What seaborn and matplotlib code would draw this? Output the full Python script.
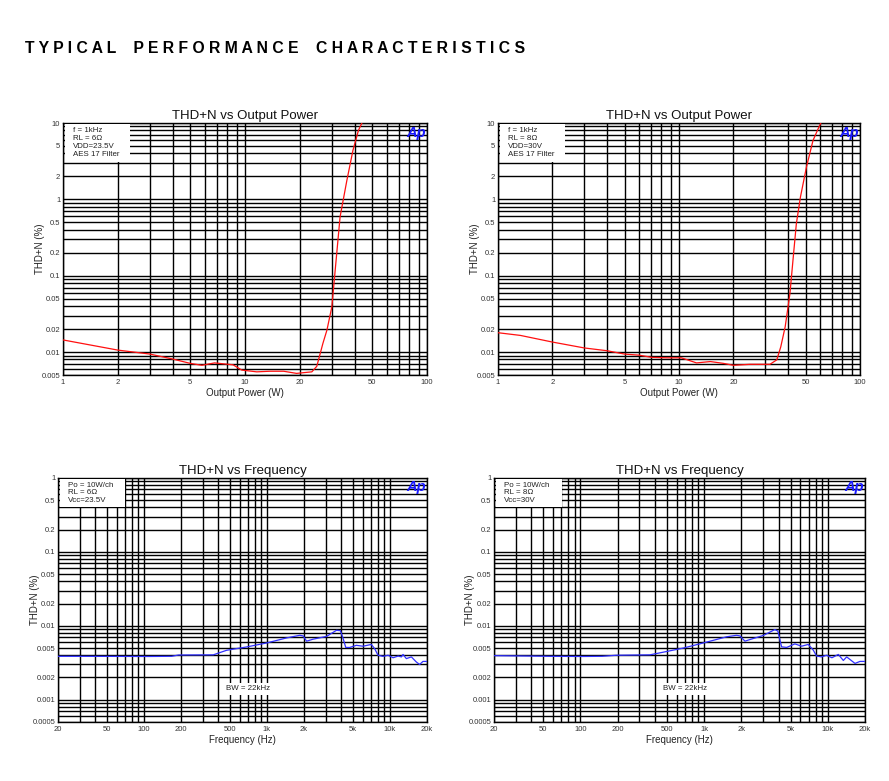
import seaborn as sns
import matplotlib.pyplot as plt
import pandas as pd
import numpy as np
from matplotlib.ticker import FixedLocator, LogLocator, NullFormatter, FixedFormatter
from matplotlib.patches import Rectangle

pot_6 = [1, 2, 3, 4, 5, 5.8, 6.8, 8.6, 9.6, 11.6, 13.7, 16.3, 19.2, 23.3, 24.8,
         26.8, 28.2, 30, 31.3, 33.3, 36.3, 39.2, 42, 44.4]
thd_6 = [0.0144, 0.0106, 0.0094, 0.0081, 0.0071, 0.0067, 0.0072, 0.0068, 0.0058, 0.0055,
         0.0056, 0.0056, 0.00525, 0.0055, 0.0065, 0.013, 0.0194, 0.039, 0.118, 0.59,
         1.78, 4.4, 8.0, 10.6]

# THD+N vs potencia, 8 ohm / 30 V
pot_8 = [1, 1.33, 2, 3, 4, 5, 6, 7.1, 8.6, 10.3, 12.5, 14.9, 17.6, 20, 24.6, 31.8,
         34.7, 36.5, 38.6, 41, 42.8, 44.5, 46.9, 50.6, 55, 58.7, 61.5]
thd_8 = [0.0179, 0.0165, 0.0135, 0.0113, 0.0104, 0.0094, 0.0091, 0.0085, 0.0084, 0.0084,
         0.0072, 0.0075, 0.0071, 0.0067, 0.0069, 0.0069, 0.0079, 0.0117, 0.0214, 0.058,
         0.177, 0.48, 1.08, 2.65, 5.9, 8.4, 10.6]

# THD+N vs frecuencia, 6 ohm
frec_6 = [20, 60, 110, 168, 191, 366, 470, 683, 993, 1443, 1850, 1970, 2100, 2373, 3047,
          3673, 3955, 4165, 4370, 4710, 5330, 6030, 7060, 7510, 8000, 8790, 9640, 10600,
          11640, 12390, 12770, 13590, 14930, 16380, 17420, 18540, 20000]
thdf_6 = [0.00387, 0.00386, 0.00385, 0.00387, 0.00403, 0.00405, 0.00467, 0.00518, 0.00586,
          0.00686, 0.00745, 0.0073, 0.0062, 0.0066, 0.00719, 0.0087, 0.0086, 0.0067, 0.0051,
          0.0051, 0.00545, 0.0053, 0.0056, 0.0049, 0.0040, 0.00386, 0.0040, 0.0037, 0.0039,
          0.0038, 0.0041, 0.0036, 0.0038, 0.00324, 0.0030, 0.0033, 0.0033]

# THD+N vs frecuencia, 8 ohm
frec_8 = [20, 56, 105, 150, 195, 364, 467, 678, 984, 1518, 1828, 1950, 2138, 2400, 3006,
          3734, 3950, 4230, 4650, 5420, 6140, 6950, 7630, 8120, 8900, 9770, 10800, 12170,
          13360, 14220, 15140, 16600, 18200, 20000]
thdf_8 = [0.00395, 0.00387, 0.00385, 0.00387, 0.0040, 0.00405, 0.0044, 0.0050, 0.00586,
          0.0071, 0.00745, 0.0073, 0.0062, 0.0066, 0.0074, 0.0089, 0.0085, 0.0052, 0.0051,
          0.0057, 0.0053, 0.0056, 0.0047, 0.0039, 0.0038, 0.0040, 0.0037, 0.0041, 0.0034,
          0.0038, 0.0035, 0.0031, 0.0033, 0.0033]

ticks_pot_x = [1, 2, 5, 10, 20, 50, 100]
labels_pot_x = ['1', '2', '5', '10', '20', '50', '100']
ticks_pot_y = [0.005, 0.01, 0.02, 0.05, 0.1, 0.2, 0.5, 1, 2, 5, 10]
labels_pot_y = ['0.005', '0.01', '0.02', '0.05', '0.1', '0.2', '0.5', '1', '2', '5', '10']
ticks_frec_x = [20, 50, 100, 200, 500, 1000, 2000, 5000, 10000, 20000]
labels_frec_x = ['20', '50', '100', '200', '500', '1k', '2k', '5k', '10k', '20k']
ticks_frec_y = [0.0005, 0.001, 0.002, 0.005, 0.01, 0.02, 0.05, 0.1, 0.2, 0.5, 1]
labels_frec_y = ['0.0005', '0.001', '0.002', '0.005', '0.01', '0.02', '0.05', '0.1',
                 '0.2', '0.5', '1']

sns.set_style('white')
plt.rcParams['font.family'] = ['Liberation Sans', 'DejaVu Sans']

fig = plt.figure(figsize=(8.89, 7.81), dpi=100)

fig.text(25 / 889, 1 - 53 / 781,
         '    '.join(' '.join(w) for w in ['TYPICAL', 'PERFORMANCE', 'CHARACTERISTICS']),
         fontsize=11.3, fontweight='bold', ha='left', va='baseline', color='black')


def armar(ax, x, y, color, titulo, xlab, xt, xl, yt, yl, caja, ancho_caja, alto_caja):
    df = pd.DataFrame({'x': x, 'y': y})
    sns.lineplot(data=df, x='x', y='y', ax=ax, color=color, lw=0.9, sort=False,
                 estimator=None, zorder=4)
    ax.set_xscale('log')
    ax.set_yscale('log')
    ax.set_xlim(xt[0], xt[-1])
    ax.set_ylim(yt[0], yt[-1])
    ax.xaxis.set_major_locator(FixedLocator(xt))
    ax.xaxis.set_major_formatter(FixedFormatter(xl))
    ax.yaxis.set_major_locator(FixedLocator(yt))
    ax.yaxis.set_major_formatter(FixedFormatter(yl))
    for eje in [ax.xaxis, ax.yaxis]:
        eje.set_minor_locator(LogLocator(base=10, subs=np.arange(1, 10), numticks=50))
        eje.set_minor_formatter(NullFormatter())
    ax.grid(which='both', color='black', lw=1.0)
    ax.set_axisbelow(True)
    ax.tick_params(which='both', length=0, labelsize=5.5, labelcolor='#333333')
    ax.tick_params(axis='x', pad=3)
    ax.tick_params(axis='y', pad=2)
    for s in ax.spines.values():
        s.set_color('black')
        s.set_linewidth(1.0)
    ax.set_title(titulo, fontsize=9.5, pad=3, color='#111111')
    ax.set_xlabel(xlab, fontsize=7, labelpad=1, color='#222222')
    ax.set_ylabel('THD+N (%)', fontsize=7, color='#222222')
    ax.yaxis.set_label_coords(-0.05, 0.5)
    # caja de condiciones
    ax.add_patch(Rectangle((0.006, 1 - alto_caja), ancho_caja, alto_caja - 0.004,
                           transform=ax.transAxes, facecolor='white', edgecolor='none',
                           zorder=3))
    for i, t in enumerate(caja):
        ax.text(0.028, 0.985 - i * 0.032, t, transform=ax.transAxes, fontsize=5.7,
                va='top', ha='left', zorder=5, color='#222222')
    ax.text(0.997, 0.99, 'Ap', transform=ax.transAxes, fontsize=10.5, color='#1a1aff',
            fontweight='bold', fontstyle='italic', ha='right', va='top', zorder=5)


ax1 = fig.add_axes([63 / 889, 1 - 375 / 781, 364 / 889, 252 / 781])
armar(ax1, pot_6, thd_6, '#ff1010', 'THD+N vs Output Power', 'Output Power (W)',
      ticks_pot_x, labels_pot_x, ticks_pot_y, labels_pot_y,
      ['f = 1kHz', 'RL = 6\u03a9', 'VDD=23.5V', 'AES 17 Filter'], 0.178, 0.155)

ax2 = fig.add_axes([498 / 889, 1 - 375 / 781, 362 / 889, 252 / 781])
armar(ax2, pot_8, thd_8, '#ff1010', 'THD+N vs Output Power', 'Output Power (W)',
      ticks_pot_x, labels_pot_x, ticks_pot_y, labels_pot_y,
      ['f = 1kHz', 'RL = 8\u03a9', 'VDD=30V', 'AES 17 Filter'], 0.178, 0.155)

ax3 = fig.add_axes([58 / 889, 1 - 722 / 781, 369 / 889, 244 / 781])
armar(ax3, frec_6, thdf_6, '#3030ff', 'THD+N vs Frequency', 'Frequency (Hz)',
      ticks_frec_x, labels_frec_x, ticks_frec_y, labels_frec_y,
      ['Po = 10W/ch', 'RL = 6\u03a9', 'Vcc=23.5V'], 0.176, 0.12)
ax3.text(700, 0.0014, 'BW = 22kHz', fontsize=5.7, ha='center', va='center', zorder=5,
         color='#222222', bbox=dict(facecolor='white', edgecolor='none', pad=2))

ax4 = fig.add_axes([494 / 889, 1 - 722 / 781, 371 / 889, 244 / 781])
armar(ax4, frec_8, thdf_8, '#3030ff', 'THD+N vs Frequency', 'Frequency (Hz)',
      ticks_frec_x, labels_frec_x, ticks_frec_y, labels_frec_y,
      ['Po = 10W/ch', 'RL = 8\u03a9', 'Vcc=30V'], 0.176, 0.12)
ax4.text(700, 0.0014, 'BW = 22kHz', fontsize=5.7, ha='center', va='center', zorder=5,
         color='#222222', bbox=dict(facecolor='white', edgecolor='none', pad=2))

fig.savefig('out.png', dpi=100)
